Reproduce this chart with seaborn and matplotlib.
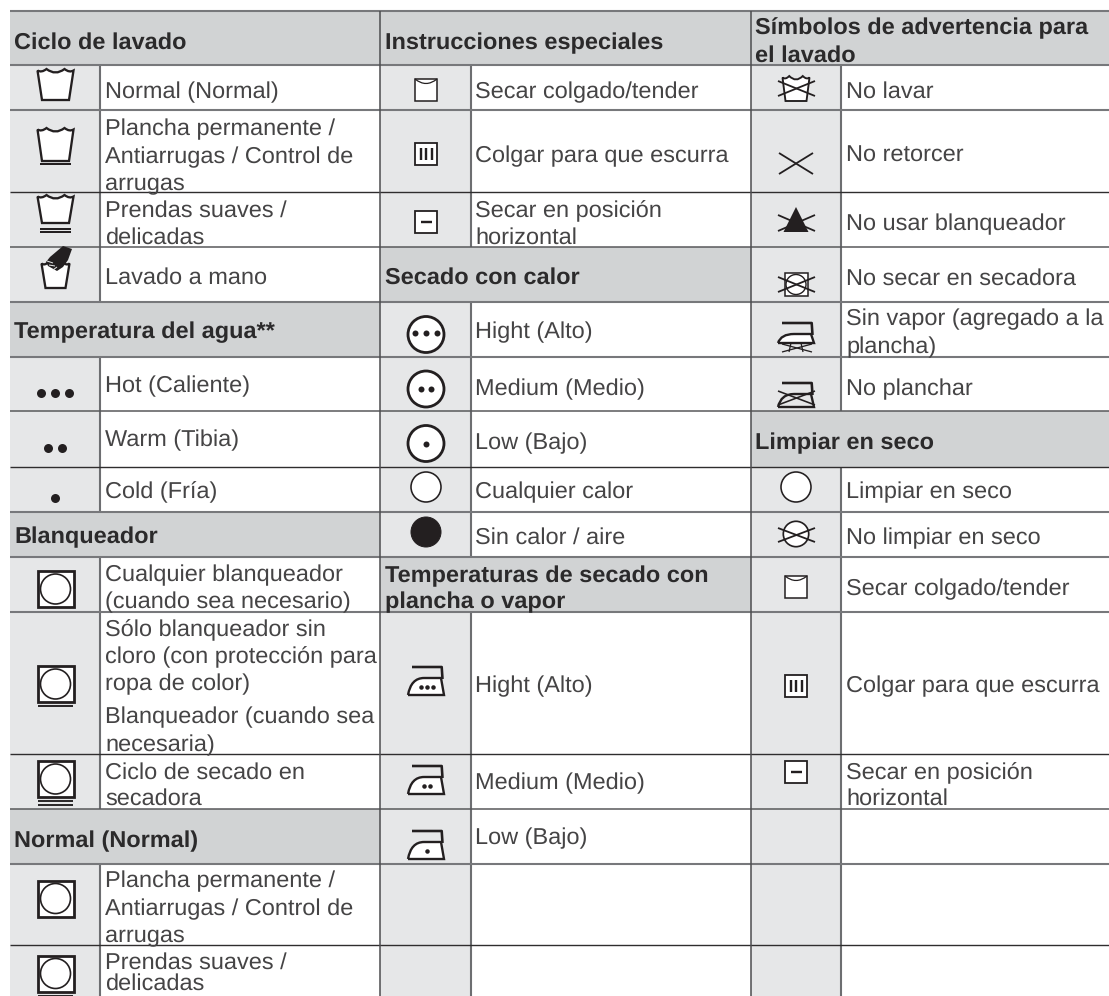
import matplotlib
matplotlib.use("Agg")
import matplotlib.pyplot as plt
from matplotlib.patches import Rectangle, Circle, PathPatch, Polygon
from matplotlib.path import Path
import seaborn as sns

sns.set_theme(style="white")
plt.rcParams['font.family'] = ['Liberation Sans', 'DejaVu Sans']
plt.rcParams['text.hinting'] = 'no_hinting'

# ---- table content -------------------------------------------------------
col1_headers = ["Ciclo de lavado", "Temperatura del agua**", "Blanqueador", "Normal (Normal)"]
col1_labels = ["Normal (Normal)", "Plancha permanente /", "Antiarrugas / Control de", "arrugas",
               "Prendas suaves /", "delicadas", "Lavado a mano", "Hot (Caliente)", "Warm (Tibia)",
               "Cold (Fría)", "Cualquier blanqueador", "(cuando sea necesario)", "Sólo blanqueador sin",
               "cloro (con protección para", "ropa de color)", "Blanqueador (cuando sea", "necesaria)",
               "Ciclo de secado en", "secadora", "Plancha permanente /", "Antiarrugas / Control de",
               "arrugas", "Prendas suaves /", "delicadas"]
col2_headers = ["Instrucciones especiales", "Secado con calor", "Temperaturas de secado con", "plancha o vapor"]
col2_labels = ["Secar colgado/tender", "Colgar para que escurra", "Secar en posición", "horizontal",
               "Hight (Alto)", "Medium (Medio)", "Low (Bajo)", "Cualquier calor", "Sin calor / aire",
               "Hight (Alto)", "Medium (Medio)", "Low (Bajo)"]
col3_headers = ["Símbolos de advertencia para", "el lavado", "Limpiar en seco"]
col3_labels = ["No lavar", "No retorcer", "No usar blanqueador", "No secar en secadora",
               "Sin vapor (agregado a la", "plancha)", "No planchar", "Limpiar en seco",
               "No limpiar en seco", "Secar colgado/tender", "Colgar para que escurra",
               "Secar en posición", "horizontal"]

# ---- layout (pixels) -----------------------------------------------------
W, H = 1109, 996
row_edges = [11, 65, 110, 192, 247, 302, 357, 411, 467, 512, 557, 612, 754, 809, 864, 945, 996]
rule_dark = [192, 467, 754, 945]
rule_mid = [247, 411, 809]
col_left = [10, 380, 751]
col_sep = [100, 471, 841]
col_right = [380, 751, 1109]
header_rows = [[0, 5, 9, 13], [0, 4, 10], [0, 7]]
col1_head_y = [49, 338, 543, 847]
col1_text_y = [98, 135, 163, 190, 217, 244, 284, 392, 446, 498, 581, 608, 636, 663, 690,
               723, 751, 779, 805, 887, 915, 942, 969, 990]
col2_head_y = [49, 284, 582, 608]
col2_text_y = [98, 162, 217, 244, 338, 395, 449, 498, 544, 692, 789, 844]
col3_head_y = [34, 62, 449]
col3_text_y = [98, 162, 230, 285, 325, 353, 395, 498, 544, 595, 692, 779, 805]

INK = "#231f20"
HEAD = "#d1d3d4"
CELL = "#e6e7e8"
TXT = "#454445"
FS = 16.9

fig = plt.figure(figsize=(W / 100, H / 100), dpi=100)
ax = fig.add_axes([0, 0, 1, 1])
ax.set_xlim(0, W)
ax.set_ylim(H, 0)
ax.axis("off")

# ---- cell backgrounds ----------------------------------------------------
for c in range(3):
    x0, xs, x1 = col_left[c], col_sep[c], col_right[c]
    ax.add_patch(Rectangle((x0, 11), xs - x0, H - 11, fc=CELL, ec="none", zorder=1))
    for r in header_rows[c]:
        ax.add_patch(Rectangle((x0, row_edges[r]), x1 - x0, row_edges[r + 1] - row_edges[r],
                               fc=HEAD, ec="none", zorder=1.5))
    rows = [r for r in range(len(row_edges) - 1) if r not in header_rows[c]]
    for r in rows:
        ax.vlines(xs, row_edges[r], row_edges[r + 1], color="#6d6e71", lw=1.5, zorder=2)

for y in row_edges[:-1]:
    if y in rule_dark:
        col, lw = "#2f2d2e", 1.0
    elif y in rule_mid:
        col, lw = "#58595b", 1.1
    else:
        col, lw = "#77787b", 1.5
    ax.hlines(y, 10, W, color=col, lw=lw, zorder=2.5)
for x in col_left[1:]:
    ax.vlines(x, 11, H, color="#4d4d4f", lw=1.1, zorder=2.6)


# ---- icon helpers --------------------------------------------------------
def stroke(xs, ys, lw=1.8, color=INK, z=4):
    ax.plot(xs, ys, color=color, lw=lw * 0.72, solid_capstyle="butt", zorder=z)


def cross(cx, cy, dx, dy, lw=1.8):
    stroke([cx - dx, cx + dx], [cy - dy, cy + dy], lw, z=5)
    stroke([cx - dx, cx + dx], [cy + dy, cy - dy], lw, z=5)


def tub(cx, top, bot, ht=18.0, hb=13.5, bars=(), lw=2.3):
    k = ht / 18.0
    verts = [(cx - ht, top + .5), (cx - 14 * k, top + 3), (cx - 9 * k, top - 1),
             (cx, top + 6), (cx + 9 * k, top - 1), (cx + 14 * k, top + 3), (cx + ht, top + .5),
             (cx + hb, bot), (cx - hb, bot), (cx - ht, top + .5)]
    codes = [Path.MOVETO] + [Path.CURVE3] * 6 + [Path.LINETO] * 3
    ax.add_patch(PathPatch(Path(verts, codes), fc="white", ec=INK, lw=lw * 0.72, zorder=3))
    for b in bars:
        stroke([cx - 15.5, cx + 15.5], [b, b], 2.0)


def bleach(cx, top, size=36, bars=()):
    ax.add_patch(Rectangle((cx - size / 2, top), size, size, fc="white", ec=INK, lw=2.0, zorder=3))
    ax.add_patch(Circle((cx, top + size / 2), 15, fc="white", ec=INK, lw=1.2, zorder=4))
    for b in bars:
        stroke([cx - 17.5, cx + 17.5], [b, b], 1.9)


def ring(cx, cy, r=18, lw=2.8, fill="white", color=INK):
    ax.add_patch(Circle((cx, cy), r, fc=fill, ec=color, lw=lw * 0.72, zorder=3))


def dots(xs, ys, d):
    sns.scatterplot(x=xs, y=ys, s=(d * 0.72) ** 2, color=INK, linewidth=0, ax=ax,
                    legend=False, zorder=6, clip_on=False)


def shirt(cx, top, size=22):
    x0, x1 = cx - size / 2, cx + size / 2
    ax.add_patch(Rectangle((x0, top), size, size, fc="white", ec=INK, lw=1.1, zorder=3))
    verts = [(x0, top), (cx, top + 9), (x1, top)]
    ax.add_patch(PathPatch(Path(verts, [Path.MOVETO, Path.CURVE3, Path.CURVE3]),
                           fc="none", ec=INK, lw=0.9, zorder=4))


def drip(cx, top, size=22):
    ax.add_patch(Rectangle((cx - size / 2, top), size, size, fc="white", ec=INK, lw=1.3, zorder=3))
    for dx in (-5.5, 0, 5.5):
        stroke([cx + dx, cx + dx], [top + 5, top + size - 5], 2.4)


def flat(cx, top, size=22):
    ax.add_patch(Rectangle((cx - size / 2, top), size, size, fc="white", ec=INK, lw=1.3, zorder=3))
    stroke([cx - 5.5, cx + 5.5], [top + size / 2, top + size / 2], 2.4)


def iron(cx, top, bot, fill="white", lw=1.7):
    x0, x1 = cx - 18, cx + 18
    cy = top + 11
    verts = [(x0, bot), (x0 + 3, cy), (x0 + 16, cy), (x1 - 3, cy), (x1, bot), (x0, bot)]
    codes = [Path.MOVETO, Path.CURVE3, Path.CURVE3, Path.LINETO, Path.LINETO, Path.LINETO]
    ax.add_patch(PathPatch(Path(verts, codes), fc=fill, ec=INK, lw=lw, zorder=3))
    stroke([x0 + 4, x1 - 2.3, x1 - 1.5], [top, top, cy + 1], 2.6)


# ---- column 1 icons ------------------------------------------------------
cx1, cx2, cx3 = 55.5, 426, 796
tub(cx1, 70, 100)
tub(cx1, 129, 161, bars=[164])
tub(cx1, 196, 223, bars=[228.5, 232])
tub(cx1, 263, 288, ht=14, hb=10)
hand = [(63, 246), (72, 249), (68, 260), (63, 267), (57, 271), (48, 266), (46, 262), (50, 257)]
ax.add_patch(Polygon(hand, closed=True, fc=INK, ec="none", zorder=5))
for a, b, c, d in [(47, 261, 53, 263), (49, 265, 55, 266), (53, 270, 57, 267)]:
    stroke([a, c], [b, d], 1.0, color=CELL, z=6)
dots([41, 55, 69], [393, 393, 393], 9)
dots([48, 62], [448, 448], 9)
dots([55], [498], 9)
bleach(cx1, 571)
bleach(cx1, 666, bars=[706])
bleach(cx1, 761, bars=[800.5, 804.5])
bleach(cx1, 880.5)
bleach(cx1, 955.5, bars=[995.5])

# ---- column 2 icons ------------------------------------------------------
shirt(cx2, 79)
drip(cx2, 143)
flat(cx2, 211)
ring(cx2, 334.5)
dots([415, 426, 437], [333, 333, 333], 6)
ring(cx2, 389)
dots([421, 431], [389, 389], 6)
ring(cx2, 443.5)
dots([426], [443.5], 6)
ring(cx2, 487, r=15, lw=1.6)
ring(cx2, 532, r=15, lw=1, fill=INK)
iron(cx2, 667, 695)
dots([421, 427, 433], [687, 687, 687], 4.5)
iron(cx2, 766, 794)
dots([424, 430], [786, 786], 4.5)
iron(cx2, 831, 859)
dots([427], [851], 4.5)

# ---- column 3 icons ------------------------------------------------------
tub(cx3, 77, 101, ht=13.5, hb=10.5, lw=1.9)
cross(cx3 + .5, 88.5, 18.5, 7.5)
cross(cx3, 163.5, 17, 10.5)
ax.add_patch(Polygon([(cx3, 207), (cx3 + 12.5, 232), (cx3 - 12.5, 232)], closed=True, fc=INK, ec="none", zorder=4))
cross(cx3 + .5, 223, 18.5, 8)
ax.add_patch(Rectangle((cx3 - 11.5, 273), 23, 23, fc="white", ec=INK, lw=1.1, zorder=3))
ax.add_patch(Circle((cx3, 284.5), 10, fc="white", ec=INK, lw=1.0, zorder=4))
cross(cx3 + .5, 284.5, 18.5, 7.5)
iron(cx3, 323, 343)
cross(cx3 + 1, 348, 15, 4, lw=1.3)
stroke([cx3 - 5, cx3 - 7], [343, 352], 1.3)
stroke([cx3 + 5, cx3 + 7], [343, 352], 1.3)
iron(cx3, 383, 407, fill=CELL)
cross(cx3 + .5, 398, 18.5, 7, lw=1.6)
ring(cx3, 487, r=15, lw=1.6)
ring(cx3, 534, r=12.7, lw=1.7)
cross(cx3 + .5, 535, 18.5, 7)
shirt(cx3, 576)
drip(cx3, 675)
flat(cx3, 761)

# ---- text ----------------------------------------------------------------
text_x = [105, 475, 846]
head_x = [14, 385, 755]
for c, (heads, hy, labels, ty) in enumerate([
        (col1_headers, col1_head_y, col1_labels, col1_text_y),
        (col2_headers, col2_head_y, col2_labels, col2_text_y),
        (col3_headers, col3_head_y, col3_labels, col3_text_y)]):
    for s, y in zip(heads, hy):
        ax.text(head_x[c], y, s, fontsize=FS, fontweight="bold", color="#2b2a2b", va="baseline", zorder=7)
    for s, y in zip(labels, ty):
        ax.text(text_x[c], y, s, fontsize=FS, color=TXT, va="baseline", zorder=7)

fig.savefig("out.png", dpi=100, facecolor="white")
